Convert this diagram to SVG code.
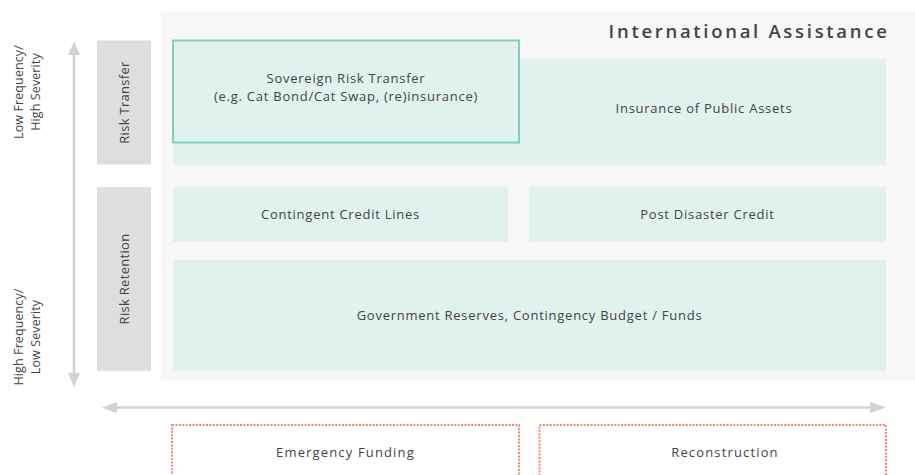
<svg xmlns="http://www.w3.org/2000/svg" width="915" height="475" viewBox="0 0 915 475">
<style>
.t{font-family:"Open Sans","Noto Sans","Liberation Sans",sans-serif;font-size:13px;fill:#444;text-anchor:middle;letter-spacing:0.75px}
.ax-t{font-size:12.5px;letter-spacing:0.1px}
.rot{letter-spacing:0.3px}
.b{letter-spacing:1.15px}
.side{fill:#dedede}
.cell{fill:#e1f1ee}
.ax{stroke:#d2d2d2;stroke-width:2.5;fill:none}
.ah{fill:#d2d2d2}
.dot{fill:none;stroke:#f2837a;stroke-width:2;stroke-dasharray:2 1.4}
.title{font-family:"Open Sans","Noto Sans","Liberation Sans",sans-serif;font-size:18.5px;font-weight:600;fill:#444;text-anchor:end;letter-spacing:2.7px}
</style>
<rect width="915" height="475" fill="#ffffff"/>
<rect id="panel" x="161" y="12" width="754" height="368" fill="#f7f7f7"/>
<text class="title" x="889.5" y="38">International Assistance</text>

<g id="connectors">
<line class="ax" x1="74" y1="54" x2="74" y2="374"/>
<polygon class="ah" points="74,41.5 68,55 80,55"/>
<polygon class="ah" points="74,387 68,373 80,373"/>
<line class="ax" x1="115" y1="407.5" x2="872" y2="407.5"/>
<polygon class="ah" points="101.5,407.5 117,402 117,413"/>
<polygon class="ah" points="886,407.5 870,402 870,413"/>
</g>

<g id="axis-labels">
<g transform="translate(0,92) rotate(-90)">
<text class="t ax-t" x="0" y="23">Low Frequency/</text>
<text class="t ax-t" x="0" y="40">High Severity</text>
</g>
<g transform="translate(0,337) rotate(-90)">
<text class="t ax-t" x="0" y="23">High Frequency/</text>
<text class="t ax-t" x="0" y="40">Low Severity</text>
</g>
</g>

<g id="risk-transfer">
<rect class="side" x="97" y="40.5" width="54" height="124"/>
<text class="t rot" transform="translate(0,102.5) rotate(-90)" x="0" y="128.5">Risk Transfer</text>
</g>
<g id="risk-retention">
<rect class="side" x="97" y="187" width="54" height="184"/>
<text class="t rot" transform="translate(0,279) rotate(-90)" x="0" y="128.5">Risk Retention</text>
</g>

<g id="insurance-public-assets">
<rect class="cell" x="173" y="59" width="713" height="106"/>
<text class="t" x="704" y="112.5">Insurance of Public Assets</text>
</g>
<g id="sovereign-risk-transfer">
<rect class="cell" x="173" y="40.5" width="346" height="102" stroke="#7fd0c2" stroke-width="2"/>
<text class="t" x="346" y="83">Sovereign Risk Transfer</text>
<text class="t" x="346" y="100.5">(e.g. Cat Bond/Cat Swap, (re)insurance)</text>
</g>
<g id="contingent-credit-lines">
<rect class="cell" x="173" y="187" width="335" height="55"/>
<text class="t" x="340.5" y="218.5">Contingent Credit Lines</text>
</g>
<g id="post-disaster-credit">
<rect class="cell" x="529" y="187" width="357" height="55"/>
<text class="t" x="707.5" y="218.5">Post Disaster Credit</text>
</g>
<g id="government-reserves">
<rect class="cell" x="173" y="260" width="713" height="111"/>
<text class="t" x="529.5" y="319.5">Government Reserves, Contingency Budget / Funds</text>
</g>

<g id="emergency-funding">
<rect class="dot" x="172" y="425" width="347" height="70"/>
<text class="t b" x="345.5" y="457">Emergency Funding</text>
</g>
<g id="reconstruction">
<rect class="dot" x="539.5" y="425" width="346.5" height="70"/>
<text class="t b" x="725" y="457">Reconstruction</text>
</g>
</svg>
